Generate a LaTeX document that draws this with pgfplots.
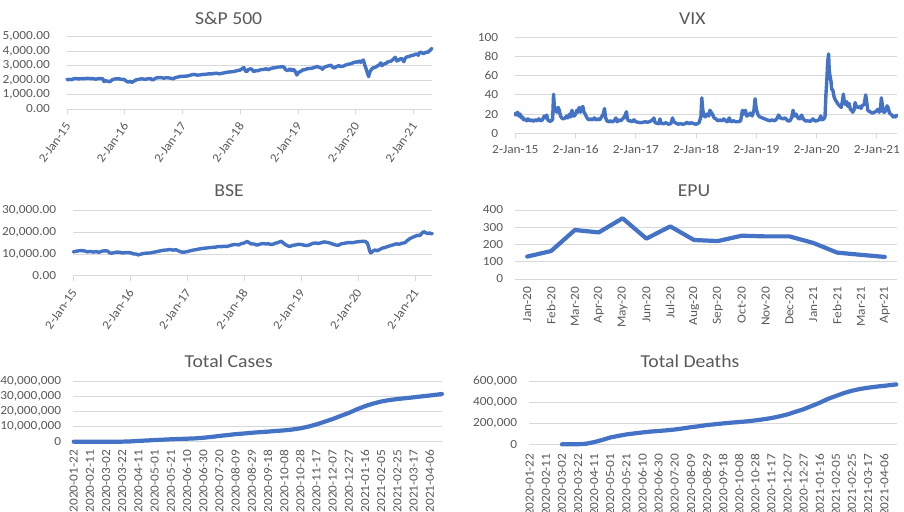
\documentclass[border=0pt]{standalone}
\usepackage{pgfplots}
\pgfplotsset{compat=1.18}
\usepackage{fontspec}
\setmainfont{Carlito}[FakeStretch=1.08]
\definecolor{linec}{HTML}{4472C4}
\definecolor{gridc}{HTML}{D9D9D9}
\definecolor{txtc}{HTML}{595959}
\pgfplotsset{
  excel/.style={
    scale only axis,
    anchor=south west,
    axis line style={draw=none},
    ymajorgrids, grid style={gridc, line width=0.9bp},
    ytick style={draw=none},
    tick label style={font=\fontsize{12.4}{14}\selectfont, text=txtc},
    /pgf/number format/assume math mode=true,
    yticklabel style={anchor=east, inner sep=0pt, xshift=-12bp},
    scaled y ticks=false,
    clip=false,
  },
  yearaxis/.style={
    xtick={2015,2016,2017,2018,2019,2020,2021},
    xticklabels={2-Jan-15,2-Jan-16,2-Jan-17,2-Jan-18,2-Jan-19,2-Jan-20,2-Jan-21},
    tick align=outside, major tick length=5bp,
    xtick style={gridc, line width=0.9bp},
    xtick pos=bottom,
  },
  dateaxis/.style={
    xmin=-0.5, xmax=455.5,
    xtick={0,20,...,440},
    xticklabels={2020-01-22,2020-02-11,2020-03-02,2020-03-22,2020-04-11,2020-05-01,2020-05-21,2020-06-10,2020-06-30,2020-07-20,2020-08-09,2020-08-29,2020-09-18,2020-10-08,2020-10-28,2020-11-17,2020-12-07,2020-12-27,2021-01-16,2021-02-05,2021-02-25,2021-03-17,2021-04-06},
    xtick style={draw=none},
    xticklabel style={rotate=90, anchor=east, inner sep=0pt},
  },
  ser/.style={linec, line width=3.4bp, line join=round, line cap=round, no marks},
  thick ser/.style={linec, line width=4.2bp, line join=round, line cap=round, no marks},
}
\begin{document}
\begin{tikzpicture}
\useasboundingbox (0,0) rectangle (904bp,512bp);
\tikzset{ttl/.style={font=\fontsize{18.3}{21}\selectfont, text=txtc}}
\node[ttl] at (228.7bp,493.7bp) {S\&P 500};
\node[ttl] at (692.3bp,493.7bp) {VIX};
\node[ttl] at (229bp,321.3bp) {BSE};
\node[ttl] at (694bp,321.3bp) {EPU};
\node[ttl] at (228.8bp,150.3bp) {Total Cases};
\node[ttl] at (690bp,150.3bp) {Total Deaths};

% S&P 500
\begin{axis}[excel, yearaxis, at={(67bp,403bp)}, width=365bp, height=72.3bp,
  xmin=2015, xmax=2021.317, ymin=0, ymax=5000, ytick={0,1000,...,5000},
  yticklabel={\pgfmathprintnumber[fixed,fixed zerofill,precision=2,1000 sep={,},assume math mode=true]{\tick}},
  xticklabel style={yshift=-9.5bp, xshift=1bp, rotate=55, anchor=east, inner sep=0pt}]
\addplot[ser] coordinates {
(2015.00,2058)(2015.02,2020)(2015.04,2050)(2015.08,2030)(2015.12,2100)(2015.16,2110)(2015.2,2080)(2015.25,2100)(2015.3,2090)(2015.35,2120)(2015.4,2105)(2015.45,2095)(2015.5,2065)(2015.54,2100)(2015.58,2105)(2015.62,2090)(2015.64,1893)(2015.67,1950)(2015.71,1920)(2015.74,1880)(2015.78,2015)(2015.82,2070)(2015.87,2090)(2015.91,2080)(2015.95,2040)(2015.98,2060)
(2016.0,2012)(2016.04,1890)(2016.06,1870)(2016.1,1920)(2016.12,1829)(2016.16,1930)(2016.2,2020)(2016.25,2060)(2016.3,2090)(2016.35,2050)(2016.4,2090)(2016.45,2100)(2016.48,2000)(2016.52,2100)(2016.56,2165)(2016.62,2175)(2016.68,2130)(2016.72,2165)(2016.78,2140)(2016.84,2085)(2016.87,2165)(2016.92,2210)(2016.97,2260)
(2017.0,2257)(2017.08,2280)(2017.16,2365)(2017.2,2395)(2017.25,2345)(2017.3,2355)(2017.35,2390)(2017.4,2400)(2017.45,2430)(2017.5,2425)(2017.55,2460)(2017.6,2475)(2017.63,2430)(2017.68,2465)(2017.72,2500)(2017.78,2550)(2017.85,2575)(2017.9,2600)(2017.95,2660)
(2018.0,2695)(2018.06,2872)(2018.09,2620)(2018.11,2580)(2018.14,2730)(2018.18,2786)(2018.21,2700)(2018.23,2588)(2018.27,2650)(2018.3,2640)(2018.35,2720)(2018.4,2735)(2018.45,2780)(2018.48,2718)(2018.52,2780)(2018.56,2840)(2018.6,2850)(2018.65,2900)(2018.7,2910)(2018.73,2930)(2018.76,2885)(2018.78,2730)(2018.82,2650)(2018.86,2780)(2018.89,2640)(2018.92,2740)(2018.95,2600)(2018.98,2351)
(2019.0,2510)(2019.04,2590)(2019.08,2700)(2019.12,2720)(2019.16,2790)(2019.2,2800)(2019.25,2830)(2019.3,2900)(2019.33,2945)(2019.36,2880)(2019.4,2830)(2019.42,2750)(2019.45,2880)(2019.5,2960)(2019.55,3010)(2019.57,3025)(2019.6,2880)(2019.63,2840)(2019.66,2920)(2019.7,3000)(2019.74,2940)(2019.78,2960)(2019.82,3040)(2019.86,3090)(2019.9,3120)(2019.95,3190)
(2020.0,3258)(2020.03,3240)(2020.06,3330)(2020.08,3225)(2020.1,3300)(2020.13,3386)(2020.16,2954)(2020.18,2750)(2020.2,2480)(2020.22,2237)(2020.24,2540)(2020.27,2750)(2020.3,2850)(2020.33,2870)(2020.36,2950)(2020.4,3040)(2020.43,3190)(2020.45,3000)(2020.48,3100)(2020.52,3150)(2020.55,3250)(2020.6,3300)(2020.63,3380)(2020.66,3500)(2020.68,3580)(2020.71,3320)(2020.74,3380)(2020.78,3500)(2020.81,3400)(2020.83,3270)(2020.85,3500)(2020.88,3600)(2020.92,3630)(2020.96,3700)
(2021.0,3730)(2021.04,3800)(2021.07,3750)(2021.08,3714)(2021.1,3900)(2021.13,3930)(2021.15,3870)(2021.17,3820)(2021.2,3900)(2021.23,3940)(2021.25,3920)(2021.28,4060)(2021.3,4130)(2021.317,4185)
};
\end{axis}

% VIX
\begin{axis}[excel, yearaxis, at={(515.3bp,378.7bp)}, width=381.4bp, height=96bp,
  xmin=2015, xmax=2021.33, ymin=0, ymax=100, ytick={0,20,...,100},
  xticklabel style={anchor=north, inner sep=0pt, yshift=-6.5bp}]
\addplot[ser] coordinates {
(2015.00,19)(2015.01,21)(2015.03,19)(2015.04,22)(2015.06,18)(2015.08,20)(2015.1,16)(2015.12,17)(2015.14,14)(2015.16,15)(2015.19,13)(2015.21,15)(2015.24,13)(2015.27,14)(2015.3,12.5)(2015.33,14)(2015.36,13)(2015.39,15)(2015.42,13)(2015.45,14)(2015.48,18)(2015.5,16)(2015.52,19)(2015.54,14)(2015.57,12.5)(2015.6,13)(2015.62,15)(2015.635,40.7)(2015.65,26)(2015.67,24)(2015.69,22)(2015.71,27)(2015.73,24)(2015.75,18)(2015.77,16)(2015.8,15)(2015.83,16)(2015.85,18)(2015.87,16)(2015.9,20)(2015.92,17)(2015.94,24)(2015.96,18)(2015.98,18)
(2016.0,20)(2016.02,24)(2016.04,22)(2016.06,27)(2016.08,22)(2016.1,26)(2016.12,28)(2016.14,22)(2016.16,20)(2016.19,16)(2016.22,14)(2016.25,15)(2016.28,14)(2016.31,16)(2016.34,14)(2016.37,15)(2016.4,14)(2016.43,17)(2016.46,20)(2016.48,25.8)(2016.5,16)(2016.52,13)(2016.55,12)(2016.58,13)(2016.61,12)(2016.64,13)(2016.67,16)(2016.69,12)(2016.72,14)(2016.75,13)(2016.78,15)(2016.81,17)(2016.845,22.5)(2016.86,15)(2016.88,13)(2016.91,13)(2016.94,12)(2016.97,14)
(2017.0,12)(2017.04,11.5)(2017.08,11)(2017.12,11.5)(2017.16,12)(2017.2,11.5)(2017.24,12.5)(2017.28,14)(2017.3,15.9)(2017.32,11)(2017.35,10.5)(2017.38,10)(2017.4,15)(2017.42,10.5)(2017.46,10)(2017.5,11)(2017.54,9.5)(2017.58,10)(2017.61,16)(2017.63,12)(2017.67,10.5)(2017.7,9.5)(2017.74,10)(2017.78,9.5)(2017.82,10)(2017.85,11.5)(2017.88,10)(2017.92,11)(2017.96,10)
(2018.0,9.5)(2018.02,10)(2018.05,11)(2018.08,17)(2018.095,37)(2018.11,25)(2018.13,19)(2018.15,17)(2018.18,20)(2018.21,18)(2018.23,24)(2018.25,22)(2018.27,20)(2018.3,16)(2018.33,15)(2018.36,13)(2018.4,14)(2018.43,13)(2018.46,15)(2018.49,13)(2018.52,12)(2018.55,16)(2018.58,12)(2018.62,13)(2018.66,12)(2018.7,12)(2018.74,13)(2018.77,24)(2018.79,20)(2018.82,24)(2018.84,18)(2018.87,19)(2018.9,21)(2018.93,18)(2018.96,24)(2018.98,36)
(2019.0,25)(2019.03,19)(2019.06,17)(2019.1,16)(2019.14,15)(2019.18,14)(2019.22,13)(2019.26,14)(2019.3,13)(2019.34,15)(2019.37,19)(2019.4,16)(2019.44,15)(2019.48,16)(2019.52,13)(2019.56,13)(2019.59,17)(2019.61,24)(2019.63,18)(2019.66,20)(2019.69,16)(2019.72,15)(2019.75,19)(2019.78,15)(2019.81,13)(2019.85,13)(2019.9,12.5)(2019.94,15)(2019.97,13)
(2020.0,13)(2020.04,14)(2020.07,18)(2020.09,14)(2020.12,15)(2020.14,17)(2020.155,40)(2020.17,55)(2020.185,75)(2020.2,82.7)(2020.21,66)(2020.22,61)(2020.24,54)(2020.25,46)(2020.27,45)(2020.29,38)(2020.31,35)(2020.33,33)(2020.36,30)(2020.39,28)(2020.41,27)(2020.43,34)(2020.445,40.8)(2020.46,33)(2020.48,30)(2020.5,33)(2020.52,28)(2020.54,31)(2020.56,25)(2020.58,24)(2020.6,22)(2020.62,24)(2020.64,32)(2020.66,28)(2020.68,27)(2020.7,27)(2020.72,28)(2020.74,26)(2020.76,29)(2020.79,30)(2020.815,40)(2020.83,34)(2020.85,24)(2020.87,23)(2020.9,22)(2020.93,21)(2020.96,22)(2020.99,23)
(2021.02,25)(2021.04,22)(2021.06,24)(2021.075,37)(2021.09,30)(2021.11,22)(2021.13,22)(2021.15,24)(2021.17,28.6)(2021.19,26)(2021.21,21)(2021.23,20)(2021.25,19)(2021.27,17)(2021.29,18)(2021.31,17)(2021.33,19)
};
\end{axis}

% BSE
\begin{axis}[excel, yearaxis, at={(73.3bp,236.3bp)}, width=359bp, height=65bp,
  xmin=2015, xmax=2021.30, ymin=0, ymax=30000, ytick={0,10000,20000,30000},
  yticklabel={\pgfmathprintnumber[fixed,fixed zerofill,precision=2,1000 sep={,},assume math mode=true]{\tick}},
  xticklabel style={yshift=-9.5bp, xshift=1bp, rotate=55, anchor=east, inner sep=0pt}]
\addplot[ser] coordinates {
(2015.0,11000)(2015.05,11300)(2015.1,11500)(2015.15,11600)(2015.2,11400)(2015.25,11000)(2015.3,11200)(2015.35,10900)(2015.4,11100)(2015.45,10800)(2015.5,11300)(2015.55,11500)(2015.6,11400)(2015.64,10500)(2015.68,10400)(2015.72,10700)(2015.78,10900)(2015.82,10800)(2015.86,10500)(2015.9,10600)(2015.95,10700)
(2016.0,10600)(2016.05,10100)(2016.1,10000)(2016.14,9600)(2016.18,9900)(2016.22,10200)(2016.28,10400)(2016.35,10500)(2016.4,10800)(2016.45,11000)(2016.5,11300)(2016.55,11600)(2016.6,11800)(2016.65,11900)(2016.7,12100)(2016.75,11800)(2016.8,12000)(2016.85,11400)(2016.9,10900)(2016.95,10900)
(2017.0,11100)(2017.05,11500)(2017.1,11800)(2017.15,12000)(2017.2,12300)(2017.25,12500)(2017.3,12700)(2017.35,12800)(2017.4,13000)(2017.45,13100)(2017.5,13200)(2017.55,13500)(2017.6,13400)(2017.65,13600)(2017.7,13500)(2017.75,13900)(2017.8,14300)(2017.85,14400)(2017.9,14200)(2017.95,14800)
(2018.0,15100)(2018.05,15800)(2018.08,15300)(2018.12,14700)(2018.18,14600)(2018.22,14100)(2018.28,14600)(2018.33,14900)(2018.38,14600)(2018.42,14800)(2018.46,14400)(2018.5,14500)(2018.55,15000)(2018.6,15400)(2018.65,15900)(2018.68,15200)(2018.72,14400)(2018.76,13800)(2018.8,13500)(2018.85,14000)(2018.9,14200)(2018.95,14500)
(2019.0,14400)(2019.05,14100)(2019.1,13900)(2019.15,14300)(2019.2,14900)(2019.25,15100)(2019.3,14900)(2019.35,15200)(2019.4,15600)(2019.45,15400)(2019.5,15100)(2019.55,14600)(2019.6,14200)(2019.65,14000)(2019.7,14700)(2019.75,14900)(2019.8,15200)(2019.85,15300)(2019.9,15200)(2019.95,15500)
(2020.0,15700)(2020.05,15800)(2020.1,15900)(2020.13,15700)(2020.16,15100)(2020.18,13500)(2020.2,11500)(2020.22,10500)(2020.24,10900)(2020.27,11600)(2020.3,11900)(2020.33,11400)(2020.37,12000)(2020.42,12700)(2020.47,13000)(2020.52,13500)(2020.57,13900)(2020.62,14300)(2020.67,14700)(2020.72,14500)(2020.77,15000)(2020.82,15200)(2020.86,16200)(2020.9,17000)(2020.95,17700)
(2021.0,18200)(2021.04,18700)(2021.08,18500)(2021.12,19700)(2021.15,20300)(2021.18,19900)(2021.22,19400)(2021.25,19800)(2021.28,19300)(2021.30,19500)
};
\end{axis}

% EPU
\begin{axis}[excel, at={(515.3bp,233bp)}, width=381.4bp, height=69bp,
  xmin=-0.5, xmax=15.5, ymin=0, ymax=400, ytick={0,100,...,400},
  xtick={0,...,15},
  xticklabels={Jan-20,Feb-20,Mar-20,Apr-20,May-20,Jun-20,Jul-20,Aug-20,Sep-20,Oct-20,Nov-20,Dec-20,Jan-21,Feb-21,Mar-21,Apr-21},
  xtick style={draw=none},
  xticklabel style={rotate=90, anchor=east, inner sep=0pt, xshift=-7.7bp}]
\addplot[thick ser] coordinates {
(0,130)(1,162)(2,284)(3,270)(4,352)(5,234)(6,305)(7,226)(8,220)(9,251)(10,247)(11,247)(12,209)(13,153)(14,140)(15,128)
};
\end{axis}

% Total Cases
\begin{axis}[excel, dateaxis, at={(73.3bp,70.3bp)}, width=369bp, height=60bp,
  ymin=0, ymax=40000000, ytick={0,10000000,20000000,30000000,40000000},
  yticklabel={\pgfmathprintnumber[fixed,precision=0,1000 sep={,},assume math mode=true]{\tick}},
  xticklabel style={xshift=-8.3bp}]
\addplot[thick ser] coordinates {
(0,0)(10,0)(20,0)(30,0)(40,100)(50,3000)(60,33000)(70,190000)(80,530000)(90,790000)(100,1100000)(110,1350000)(120,1600000)(130,1810000)(140,2000000)(150,2220000)(160,2630000)(170,3180000)(180,3830000)(190,4420000)(200,5020000)(210,5450000)(220,5950000)(230,6350000)(240,6720000)(250,7150000)(260,7560000)(270,8100000)(280,8920000)(290,10050000)(300,11550000)(310,13300000)(320,15100000)(330,17200000)(340,19200000)(350,21600000)(360,23700000)(370,25400000)(380,26800000)(390,27750000)(400,28450000)(410,29000000)(420,29600000)(430,30200000)(440,30800000)(450,31450000)(455,31800000)
};
\end{axis}

% Total Deaths
\begin{axis}[excel, dateaxis, at={(529.3bp,67.7bp)}, width=367.4bp, height=63bp,
  ymin=0, ymax=600000, ytick={0,200000,400000,600000},
  yticklabel={\pgfmathprintnumber[fixed,precision=0,1000 sep={,},assume math mode=true]{\tick}},
  xticklabel style={xshift=-9bp}]
\addplot[thick ser] coordinates {
(40,0)(50,30)(60,500)(70,5500)(80,21000)(90,41000)(100,65000)(110,80000)(120,94000)(130,104000)(140,113000)(150,121000)(160,127000)(170,133000)(180,141000)(190,151000)(200,163000)(210,172000)(220,183000)(230,191000)(240,199000)(250,206000)(260,212000)(270,219000)(280,228000)(290,238000)(300,250000)(310,266000)(320,285000)(330,310000)(340,334000)(350,365000)(360,396000)(370,432000)(380,460000)(390,488000)(400,510000)(410,527000)(420,539000)(430,549000)(440,557000)(450,566000)(455,570000)
};
\end{axis}
\end{tikzpicture}
\end{document}
